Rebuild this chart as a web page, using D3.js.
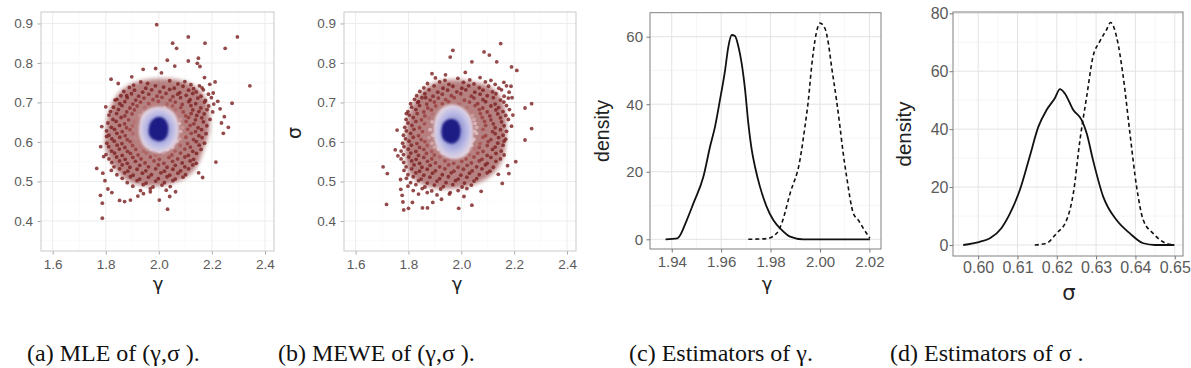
<!DOCTYPE html>
<html>
<head>
<meta charset="utf-8">
<script src="https://cdn.jsdelivr.net/npm/d3@7"></script>
<style>
body { margin: 0; background: #fff; }
svg { display: block; }
</style>
</head>
<body>
<script>
// ---- scatter (a): MLE of (gamma, sigma) ----
var mlePoints = [
 [1.992,.897],[2.111,.866],[2.296,.866],[2.052,.850],[2.067,.837],[2.174,.850],[2.250,.837],
 [2.032,.807],[2.111,.805],[2.149,.812],[2.145,.799],[2.155,.791],[1.941,.784],[1.988,.786],[2.010,.775],[2.060,.792],
 [1.820,.759],[1.898,.765],[1.847,.748],[2.343,.742],[1.879,.717],[1.835,.706],[1.800,.689],[1.785,.639],
 [2.276,.698],[2.262,.637],[2.247,.664],[2.236,.648],[2.243,.622],[2.215,.549],[2.165,.510],[2.150,.522],
 [2.222,.703],[2.205,.724],[2.231,.684],[2.192,.746],[2.212,.752],[2.172,.763],[2.163,.737],
 [1.766,.533],[1.787,.445],[1.780,.465],[1.787,.407],[2.033,.430],[1.797,.502],[1.789,.521],[1.808,.481],[1.823,.472],
 [1.852,.452],[1.871,.449],[1.893,.453],[1.921,.463],[1.942,.469],[2.002,.453],[1.968,.474],[2.041,.462],[2.063,.474],
 [1.792,.563],[1.781,.588],[1.803,.614],
 [1.932,.752],[1.958,.748],[2.041,.755],[2.072,.747],[2.098,.753],[2.121,.745],[1.905,.744],
 [1.889,.738],[1.951,.736],[1.987,.742],[2.018,.739],[2.058,.736],[2.091,.741],[2.131,.735],[2.153,.742],
 [1.868,.728],[1.908,.731],[1.939,.726],[1.973,.732],[2.004,.727],[2.041,.733],[2.079,.725],[2.112,.731],[2.141,.727],[2.168,.732],
 [1.857,.717],[1.897,.722],[1.924,.716],[1.962,.721],[1.993,.716],[2.027,.723],[2.053,.715],[2.071,.721],[2.103,.718],[2.128,.723],[2.159,.716],[2.187,.721],
 [1.842,.708],[1.881,.712],[1.913,.706],[1.944,.711],[1.978,.707],[2.012,.713],[2.043,.706],[2.082,.712],[2.118,.707],[2.147,.711],[2.176,.705],[2.198,.712],
 [1.853,.697],[1.872,.702],[1.902,.696],[1.931,.701],[1.962,.697],[1.998,.703],[2.031,.696],[2.062,.701],[2.088,.695],[2.113,.702],[2.139,.697],[2.172,.701],[2.207,.696],
 [1.829,.688],[1.861,.692],[1.891,.686],[1.918,.691],[1.947,.687],[1.981,.693],[2.022,.686],[2.052,.691],[2.083,.687],[2.121,.692],[2.158,.686],[2.188,.691],
 [1.818,.677],[1.848,.682],[1.879,.676],[1.908,.681],[1.938,.677],[2.063,.682],[2.092,.676],[2.128,.681],[2.151,.677],[2.182,.682],[2.203,.676],
 [1.812,.668],[1.841,.672],[1.872,.666],[1.899,.671],[1.928,.667],[2.072,.671],[2.101,.666],[2.122,.672],[2.143,.667],[2.171,.671],
 [1.827,.657],[1.858,.662],[1.886,.656],[1.917,.661],[2.081,.657],[2.112,.662],[2.138,.656],[2.162,.661],[2.193,.657],
 [1.808,.648],[1.839,.652],[1.871,.646],[1.908,.651],[2.078,.647],[2.103,.652],[2.132,.646],[2.168,.651],
 [1.821,.637],[1.852,.642],[1.878,.636],[1.901,.641],[2.089,.637],[2.118,.642],[2.148,.636],[2.181,.641],
 [1.803,.628],[1.833,.632],[1.862,.626],[1.891,.631],[2.082,.627],[2.109,.632],[2.138,.626],[2.161,.631],
 [1.812,.617],[1.842,.622],[1.873,.616],[1.902,.621],[2.091,.617],[2.122,.622],[2.151,.616],[2.178,.621],
 [1.823,.608],[1.853,.612],[1.881,.606],[1.912,.611],[2.079,.607],[2.102,.612],[2.131,.606],[2.163,.611],
 [1.804,.597],[1.832,.602],[1.861,.596],[1.892,.601],[1.921,.597],[2.068,.602],[2.108,.596],[2.141,.601],[2.172,.597],
 [1.811,.588],[1.843,.592],[1.872,.586],[1.901,.591],[1.931,.587],[1.958,.592],[2.052,.586],[2.081,.591],[2.119,.587],[2.152,.592],
 [1.822,.577],[1.851,.582],[1.882,.576],[1.913,.581],[1.942,.577],[1.971,.582],[2.003,.576],[2.032,.581],[2.061,.577],[2.098,.582],[2.128,.576],[2.159,.581],
 [1.801,.568],[1.833,.572],[1.862,.566],[1.893,.571],[1.922,.567],[1.953,.572],[1.988,.566],[2.018,.571],[2.049,.567],[2.082,.572],[2.111,.566],[2.142,.571],
 [1.812,.557],[1.841,.562],[1.873,.556],[1.902,.561],[1.933,.557],[1.968,.562],[2.002,.556],[2.038,.561],[2.071,.557],[2.098,.562],[2.131,.556],
 [1.823,.548],[1.852,.552],[1.881,.546],[1.912,.551],[1.948,.547],[1.982,.552],[2.019,.546],[2.052,.551],[2.088,.547],[2.118,.552],[2.141,.546],
 [1.831,.537],[1.862,.542],[1.891,.536],[1.928,.541],[1.961,.537],[1.998,.542],[2.031,.536],[2.062,.541],[2.098,.537],[2.128,.542],
 [1.821,.528],[1.852,.532],[1.883,.526],[1.918,.531],[1.951,.527],[1.988,.532],[2.021,.526],[2.053,.531],[2.082,.527],[2.112,.532],
 [1.842,.517],[1.871,.522],[1.903,.516],[1.938,.521],[1.972,.517],[2.008,.522],[2.041,.516],[2.072,.521],[2.101,.517],
 [1.862,.508],[1.893,.512],[1.928,.506],[1.961,.511],[1.998,.507],[2.031,.512],[2.062,.506],[2.091,.511],
 [1.881,.497],[1.918,.502],[1.952,.496],[1.988,.501],[2.021,.497],[2.053,.502],
 [1.902,.488],[1.941,.492],[1.978,.486],[2.012,.491],[2.043,.487],
 [1.931,.477],[1.968,.482],[2.028,.478]
];
// dense zones: overlapping points, light ring, dark centre
var mleCloud = [[1.80,0.62],[1.81,0.67],[1.84,0.715],[1.885,0.742],[1.95,0.757],[2.03,0.76],[2.10,0.752],[2.155,0.73],[2.185,0.69],[2.19,0.63],[2.165,0.575],[2.135,0.53],[2.08,0.503],[2.01,0.49],[1.94,0.49],[1.875,0.505],[1.825,0.545],[1.80,0.585]];
var mleHalo = [[1.925,0.632],[1.935,0.667],[1.963,0.684],[2.0,0.69],[2.042,0.682],[2.07,0.658],[2.075,0.62],[2.058,0.589],[2.02,0.574],[1.983,0.574],[1.947,0.587],[1.93,0.608]];
var mleCore = [[1.962,0.628],[1.968,0.648],[1.985,0.66],[2.005,0.663],[2.025,0.655],[2.035,0.638],[2.032,0.618],[2.02,0.606],[2.0,0.602],[1.98,0.606],[1.966,0.615]];

// ---- scatter (b): MEWE of (gamma, sigma) ----
var mewePoints = [
 [2.149,.849],[1.968,.832],[1.958,.815],[2.086,.828],[2.106,.820],[2.040,.803],[2.134,.803],[2.190,.790],[2.210,.781],
 [1.889,.773],[1.940,.770],[2.015,.776],[2.188,.741],[2.192,.712],[2.195,.668],[2.190,.640],
 [2.241,.686],[2.266,.697],[2.266,.634],[2.241,.605],[2.206,.550],[2.180,.520],[2.140,.518],
 [2.040,.440],[1.990,.432],[1.717,.442],[1.704,.537],[1.720,.520],[1.757,.630],[1.750,.580],
 [1.771,.480],[1.776,.465],[1.779,.448],[1.782,.428],[1.800,.432],[1.815,.447],[1.853,.433],[1.872,.433],[1.892,.447],
 [1.792,.672],[1.835,.700],[1.865,.712],[1.760,.565],[1.770,.505],[1.925,.455],[1.955,.468],[2.010,.462],[2.075,.475],[2.155,.495],[2.175,.540],
 [1.902,.762],[1.938,.756],[1.987,.761],[2.032,.757],[2.071,.763],[2.112,.756],
 [1.872,.748],[1.918,.752],[1.953,.746],[2.008,.751],[2.048,.747],[2.091,.752],[2.128,.746],[2.161,.751],
 [1.858,.737],[1.897,.742],[1.931,.736],[1.968,.741],[2.002,.736],[2.028,.742],[2.068,.737],[2.103,.741],[2.142,.736],[2.171,.742],
 [1.843,.728],[1.878,.732],[1.911,.726],[1.948,.731],[1.983,.727],[2.017,.732],[2.051,.726],[2.082,.731],[2.118,.727],[2.152,.732],[2.181,.726],
 [1.831,.717],[1.862,.722],[1.893,.716],[1.928,.721],[1.962,.717],[1.998,.722],[2.038,.716],[2.071,.721],[2.098,.717],[2.131,.722],[2.162,.716],
 [1.823,.708],[1.851,.712],[1.882,.706],[1.913,.711],[1.941,.707],[1.973,.712],[2.012,.706],[2.048,.711],[2.082,.707],[2.121,.712],[2.148,.706],[2.178,.711],
 [1.808,.697],[1.838,.702],[1.869,.696],[1.898,.701],[1.928,.697],[1.952,.702],[1.991,.696],[2.031,.701],[2.062,.697],[2.092,.702],[2.128,.696],[2.161,.701],
 [1.812,.688],[1.842,.692],[1.873,.686],[1.903,.691],[2.022,.687],[2.052,.692],[2.081,.686],[2.112,.691],[2.141,.687],[2.171,.692],
 [1.798,.677],[1.828,.682],[1.858,.676],[1.887,.681],[2.038,.677],[2.068,.682],[2.098,.676],[2.131,.681],[2.158,.677],[2.182,.682],
 [1.803,.668],[1.833,.672],[1.862,.666],[1.891,.671],[2.042,.667],[2.072,.672],[2.108,.666],[2.138,.671],[2.168,.667],
 [1.791,.657],[1.818,.662],[1.849,.656],[1.878,.661],[2.048,.657],[2.079,.662],[2.112,.656],[2.148,.661],[2.178,.657],
 [1.798,.648],[1.828,.652],[1.861,.646],[1.889,.651],[2.052,.647],[2.088,.652],[2.121,.646],[2.152,.651],
 [1.786,.637],[1.813,.642],[1.842,.636],[1.871,.641],[2.058,.637],[2.092,.642],[2.128,.636],[2.162,.641],
 [1.792,.628],[1.821,.632],[1.853,.626],[1.882,.631],[2.051,.627],[2.082,.632],[2.118,.626],[2.148,.631],[2.171,.627],
 [1.781,.617],[1.808,.622],[1.838,.616],[1.868,.621],[1.892,.617],[2.058,.622],[2.092,.616],[2.128,.621],[2.158,.617],
 [1.789,.608],[1.818,.612],[1.848,.606],[1.878,.611],[2.048,.607],[2.082,.612],[2.112,.606],[2.141,.611],[2.168,.607],
 [1.778,.597],[1.802,.602],[1.832,.596],[1.862,.601],[1.889,.597],[2.041,.602],[2.071,.596],[2.102,.601],[2.138,.597],[2.162,.602],
 [1.783,.588],[1.811,.592],[1.842,.586],[1.871,.591],[1.898,.587],[2.038,.592],[2.068,.586],[2.098,.591],[2.128,.587],[2.158,.592],
 [1.772,.577],[1.799,.582],[1.828,.576],[1.858,.581],[1.888,.576],[1.912,.582],[2.022,.577],[2.052,.582],[2.082,.576],[2.118,.581],[2.151,.577],
 [1.781,.568],[1.809,.572],[1.838,.566],[1.868,.571],[1.898,.567],[1.928,.572],[1.962,.566],[1.998,.571],[2.031,.567],[2.062,.572],[2.098,.566],[2.131,.571],[2.162,.567],
 [1.772,.557],[1.801,.562],[1.829,.556],[1.858,.561],[1.888,.557],[1.918,.562],[1.951,.556],[1.983,.561],[2.018,.557],[2.048,.562],[2.078,.556],[2.112,.561],[2.148,.557],
 [1.782,.548],[1.812,.552],[1.842,.546],[1.872,.551],[1.902,.547],[1.938,.552],[1.971,.546],[2.002,.551],[2.038,.547],[2.068,.552],[2.098,.546],[2.131,.551],
 [1.791,.537],[1.821,.542],[1.851,.536],[1.882,.541],[1.918,.537],[1.952,.542],[1.988,.536],[2.022,.541],[2.058,.537],[2.091,.542],[2.121,.536],
 [1.783,.528],[1.812,.532],[1.842,.526],[1.871,.531],[1.902,.527],[1.938,.532],[1.972,.526],[2.008,.531],[2.041,.527],[2.078,.532],[2.108,.526],
 [1.798,.517],[1.828,.522],[1.858,.516],[1.891,.521],[1.928,.517],[1.962,.522],[1.998,.516],[2.031,.521],[2.068,.517],[2.098,.522],
 [1.792,.508],[1.818,.512],[1.848,.506],[1.881,.511],[1.918,.507],[1.951,.512],[1.988,.506],[2.021,.511],[2.058,.507],
 [1.808,.497],[1.838,.502],[1.871,.496],[1.908,.501],[1.942,.497],[1.978,.502],[2.012,.496],[2.048,.501],
 [1.798,.488],[1.828,.492],[1.862,.486],[1.898,.491],[1.932,.487],[1.968,.492],[2.003,.486],[2.038,.491],
 [1.818,.477],[1.852,.482],[1.888,.476],[1.922,.481],[1.988,.477],[2.021,.482],
 [1.838,.468],[1.871,.472],[1.908,.466],[1.958,.472]
];
var meweCloud = [[1.79,0.60],[1.80,0.665],[1.835,0.715],[1.885,0.745],[1.95,0.757],[2.04,0.752],[2.115,0.737],[2.16,0.695],[2.17,0.63],[2.16,0.565],[2.12,0.52],[2.05,0.493],[1.96,0.482],[1.875,0.487],[1.81,0.515],[1.79,0.555]];
var meweHalo = [[1.895,0.626],[1.902,0.662],[1.927,0.686],[1.965,0.695],[2.003,0.687],[2.035,0.662],[2.045,0.626],[2.038,0.588],[2.012,0.564],[1.97,0.557],[1.932,0.566],[1.905,0.59]];
var meweCore = [[1.925,0.628],[1.93,0.645],[1.945,0.655],[1.965,0.658],[1.985,0.652],[1.996,0.635],[1.993,0.612],[1.98,0.6],[1.96,0.596],[1.94,0.602],[1.928,0.612]];

// ---- density (c): estimators of gamma ----
var gammaMeweX = [1.9375,1.9423,1.9461,1.9488,1.9528,1.9555,1.9575,1.9595,1.9616,1.9629,1.9643,1.9656,1.9670,1.9683,1.9697,1.9710,1.9724,1.9737,1.9757,1.9784,1.9811,1.9845,1.9879,1.9933,2.0202];
var gammaMeweY = [0,0.3,5.7,10.7,18.5,27.4,33.3,41.2,50.1,57.0,60.5,60.2,57.0,52.1,44.2,34.3,26.4,21.5,15.6,9.7,5.7,2.8,0.8,0,0];
var gammaMleX = [1.9710,1.9784,1.9825,1.9845,1.9879,1.9919,1.9939,1.9953,1.9966,1.9980,2.0000,2.0020,2.0034,2.0047,2.0067,2.0081,2.0094,2.0108,2.0135,2.0155,2.0175,2.0202];
var gammaMleY = [0,0.2,1.8,4.7,13.6,23.5,33.3,41.2,51.1,59.0,64.0,62.5,58.0,51.1,41.2,33.3,25.5,18.5,7.7,5.7,3.3,0.3];

// ---- density (d): estimators of sigma ----
var sigmaMeweX = [0.5962,0.6004,0.6030,0.6059,0.6081,0.6106,0.6131,0.6153,0.6174,0.6195,0.6208,0.6220,0.6242,0.6263,0.6276,0.6292,0.6318,0.6352,0.6386,0.6420,0.6450,0.6499];
var sigmaMeweY = [0,1.1,2.3,5.8,10.9,19.0,30.5,40.8,46.6,50.7,53.8,52.4,46.6,43.2,38.6,29.4,16.7,8.6,4.0,0.6,0,0];
var sigmaMleX = [0.6144,0.6174,0.6199,0.6225,0.6242,0.6259,0.6276,0.6292,0.6309,0.6326,0.6337,0.6352,0.6369,0.6386,0.6403,0.6420,0.6445,0.6470,0.6497];
var sigmaMleY = [0,0.6,4.0,8.6,17.8,36.3,51.2,65.0,70.2,74.2,76.8,71.9,58.1,38.6,20.1,8.6,4.0,1.1,0];

// ticks
var scatterXTicks = [1.6, 1.8, 2.0, 2.2, 2.4];
var scatterXMinor = [1.7, 1.9, 2.1, 2.3];
var scatterYTicks = [0.4, 0.5, 0.6, 0.7, 0.8, 0.9];
var scatterYMinor = [0.35, 0.45, 0.55, 0.65, 0.75, 0.85];
var gammaXTicks = [1.94, 1.96, 1.98, 2.00, 2.02];
var gammaXMinor = [1.95, 1.97, 1.99, 2.01];
var gammaYTicks = [0, 20, 40, 60];
var gammaYMinor = [10, 30, 50];
var sigmaXTicks = [0.60, 0.61, 0.62, 0.63, 0.64, 0.65];
var sigmaXMinor = [0.595, 0.605, 0.615, 0.625, 0.635, 0.645];
var sigmaYTicks = [0, 20, 40, 60, 80];
var sigmaYMinor = [10, 30, 50, 70];

var captions = ["(a) MLE of (γ,σ ).", "(b) MEWE of (γ,σ ).", "(c) Estimators of γ.", "(d) Estimators of σ ."];

var svg = d3.select("body").append("svg").attr("width", 1191).attr("height", 368);
var defs = svg.append("defs");
var blurA = defs.append("filter").attr("id", "soft").attr("x", "-20%").attr("y", "-20%").attr("width", "140%").attr("height", "140%");
blurA.append("feGaussianBlur").attr("stdDeviation", 1.3);
var blurB = defs.append("filter").attr("id", "softer").attr("x", "-20%").attr("y", "-20%").attr("width", "140%").attr("height", "140%");
blurB.append("feGaussianBlur").attr("stdDeviation", 2.2);
var grad = defs.append("radialGradient").attr("id", "halo");
grad.append("stop").attr("offset", "0%").attr("stop-color", "#5a5ab6");
grad.append("stop").attr("offset", "40%").attr("stop-color", "#9595d5");
grad.append("stop").attr("offset", "72%").attr("stop-color", "#bdbde6");
grad.append("stop").attr("offset", "100%").attr("stop-color", "#e6d6e0");

function makePanel(p) {
  var x = d3.scaleLinear().domain(p.xDomain).range([p.left, p.right]);
  var y = d3.scaleLinear().domain(p.yDomain).range([p.bottom, p.top]);
  var g = svg.append("g");
  if (p.clip) {
    defs.append("clipPath").attr("id", p.clip.id).append("rect")
      .attr("x", p.clip.x0).attr("y", 0).attr("width", p.clip.x1 - p.clip.x0).attr("height", 368);
    g.attr("clip-path", "url(#" + p.clip.id + ")");
  }
  g.selectAll(".vminor").data(p.xMinor).enter().append("line")
    .attr("x1", function(d) { return x(d); }).attr("x2", function(d) { return x(d); })
    .attr("y1", p.top).attr("y2", p.bottom)
    .attr("stroke", p.minorColor).attr("stroke-width", 0.6);
  g.selectAll(".hminor").data(p.yMinor).enter().append("line")
    .attr("y1", function(d) { return y(d); }).attr("y2", function(d) { return y(d); })
    .attr("x1", p.left).attr("x2", p.right)
    .attr("stroke", p.minorColor).attr("stroke-width", 0.6);
  g.selectAll(".vmajor").data(p.xTicks).enter().append("line")
    .attr("x1", function(d) { return x(d); }).attr("x2", function(d) { return x(d); })
    .attr("y1", p.top).attr("y2", p.bottom)
    .attr("stroke", p.majorColor).attr("stroke-width", 1);
  g.selectAll(".hmajor").data(p.yTicks).enter().append("line")
    .attr("y1", function(d) { return y(d); }).attr("y2", function(d) { return y(d); })
    .attr("x1", p.left).attr("x2", p.right)
    .attr("stroke", p.majorColor).attr("stroke-width", 1);

  var xa = g.append("g").attr("transform", "translate(0," + p.bottom + ")")
    .call(d3.axisBottom(x).tickValues(p.xTicks).tickFormat(d3.format(p.xFmt)).tickSize(3.5).tickPadding(p.xPad));
  var ya = g.append("g").attr("transform", "translate(" + p.left + ",0)")
    .call(d3.axisLeft(y).tickValues(p.yTicks).tickFormat(d3.format(p.yFmt)).tickSize(3.5).tickPadding(p.yPad));
  [xa, ya].forEach(function(a) {
    a.select(".domain").remove();
    a.attr("font-family", "'Liberation Sans', Arial, sans-serif").attr("font-size", p.tickFont);
    a.selectAll("line").attr("stroke", p.tickColor);
    a.selectAll("text").attr("fill", "#5a5a5a");
  });
  return { g: g, x: x, y: y };
}

function drawBorder(p, g) {
  g.append("rect").attr("x", p.left).attr("y", p.top)
    .attr("width", p.right - p.left).attr("height", p.bottom - p.top)
    .attr("fill", "none").attr("stroke", p.borderColor).attr("stroke-width", 1);
}

function drawScatter(p, pts, cloud, halo, core) {
  var P = makePanel(p);
  var shape = d3.line().x(function(d) { return P.x(d[0]); }).y(function(d) { return P.y(d[1]); })
    .curve(d3.curveCardinalClosed);
  // points right next to the dense centre get lighter, like the density colouring
  var hp = halo.map(function(d) { return [P.x(d[0]), P.y(d[1])]; });
  var c = d3.polygonCentroid(hp);
  var hr = Math.sqrt(Math.abs(d3.polygonArea(hp)) / Math.PI);
  var shade = d3.scaleLinear().domain([1, 1.3, 1.9]).range(["#e2c2c6", "#a04444", "#7c2222"]).clamp(true);

  P.g.append("path").attr("d", shape(cloud)).attr("fill", "#8a3434").attr("opacity", 0.62)
    .attr("filter", "url(#softer)");
  P.g.selectAll(".pt").data(pts).enter().append("circle")
    .attr("cx", function(d) { return P.x(d[0]); })
    .attr("cy", function(d) { return P.y(d[1]); })
    .attr("r", 1.9)
    .attr("fill", function(d) {
      var dx = P.x(d[0]) - c[0], dy = P.y(d[1]) - c[1];
      return shade(Math.sqrt(dx * dx + dy * dy) / hr);
    })
    .attr("fill-opacity", 0.82);
  P.g.append("path").attr("d", shape(halo)).attr("fill", "url(#halo)").attr("filter", "url(#soft)");
  P.g.append("path").attr("d", shape(core)).attr("fill", "#1c1a84").attr("filter", "url(#soft)");
  drawBorder(p, P.g);
  return P;
}

function drawDensity(p, solidX, solidY, dashX, dashY) {
  var P = makePanel(p);
  var line = d3.line().x(function(d) { return P.x(d[0]); }).y(function(d) { return P.y(d[1]); })
    .curve(d3.curveMonotoneX);
  var solid = d3.zip(solidX, solidY);
  var dashed = d3.zip(dashX, dashY);
  P.g.append("path").attr("d", line(solid)).attr("fill", "none").attr("stroke", "#111")
    .attr("stroke-width", 1.8).attr("stroke-linejoin", "round");
  P.g.append("path").attr("d", line(dashed)).attr("fill", "none").attr("stroke", "#111")
    .attr("stroke-width", 1.6).attr("stroke-dasharray", "4,3");
  drawBorder(p, P.g);
  return P;
}

var scatterStyle = { majorColor: "#ececec", minorColor: "#f6f6f6", tickColor: "#aaa", borderColor: "#c9c9c9",
  xDomain: [1.556, 2.434], yDomain: [0.324, 0.929], xTicks: scatterXTicks, xMinor: scatterXMinor,
  yTicks: scatterYTicks, yMinor: scatterYMinor, xFmt: ".1f", yFmt: ".1f", tickFont: 13.5, xPad: 4.5, yPad: 4.5 };

var pa = Object.assign({ left: 41, right: 274, top: 12, bottom: 251 }, scatterStyle);
var pb = Object.assign({ left: 344, right: 576, top: 12, bottom: 251 }, scatterStyle);
drawScatter(pa, mlePoints, mleCloud, mleHalo, mleCore);
drawScatter(pb, mewePoints, meweCloud, meweHalo, meweCore);

var pc = { left: 650, right: 881, top: 12.7, bottom: 249, xDomain: [1.9312, 2.0247], yDomain: [-2.87, 67.1],
  xTicks: gammaXTicks, xMinor: gammaXMinor, yTicks: gammaYTicks, yMinor: gammaYMinor, xFmt: ".2f", yFmt: "d",
  majorColor: "#e3e3e3", minorColor: "#f0f0f0", tickColor: "#777", borderColor: "#808080",
  tickFont: 15, xPad: 4, yPad: 3.5, clip: { id: "clipc", x0: 580, x1: 885 } };
var pd = { left: 953, right: 1183, top: 12, bottom: 256, xDomain: [0.5936, 0.6521], yDomain: [-3.8, 80.45],
  xTicks: sigmaXTicks, xMinor: sigmaXMinor, yTicks: sigmaYTicks, yMinor: sigmaYMinor, xFmt: ".2f", yFmt: "d",
  majorColor: "#e3e3e3", minorColor: "#f0f0f0", tickColor: "#777", borderColor: "#808080",
  tickFont: 16, xPad: 2.5, yPad: 1 };
drawDensity(pc, gammaMeweX, gammaMeweY, gammaMleX, gammaMleY);
drawDensity(pd, sigmaMeweX, sigmaMeweY, sigmaMleX, sigmaMleY);

// axis titles
var titleFont = "'DejaVu Sans', 'Liberation Sans', sans-serif";
function title(txt, x, y, size, rotate, family) {
  var t = svg.append("text").text(txt).attr("text-anchor", "middle")
    .attr("font-family", family || titleFont).attr("font-size", size).attr("fill", "#222");
  if (rotate) t.attr("transform", "translate(" + x + "," + y + ") rotate(-90)");
  else t.attr("x", x).attr("y", y);
}
title("γ", 158, 290, 18);
title("γ", 457, 290, 18);
title("σ", 301, 133, 19, true);
title("γ", 767, 290, 18);
title("density", 609, 131, 19.5, true, "'Liberation Sans', Arial, sans-serif");
title("σ", 1069, 300, 21);
title("density", 910.5, 134, 20.5, true, "'Liberation Sans', Arial, sans-serif");

// captions
var capX = [27, 278, 629, 890];
svg.selectAll(".cap").data(captions).enter().append("text")
  .attr("x", function(d, i) { return capX[i]; })
  .attr("y", 361)
  .attr("font-family", "'Liberation Serif', 'Times New Roman', serif")
  .attr("font-size", 24)
  .attr("fill", "#111")
  .text(function(d) { return d; });
</script>
</body>
</html>
